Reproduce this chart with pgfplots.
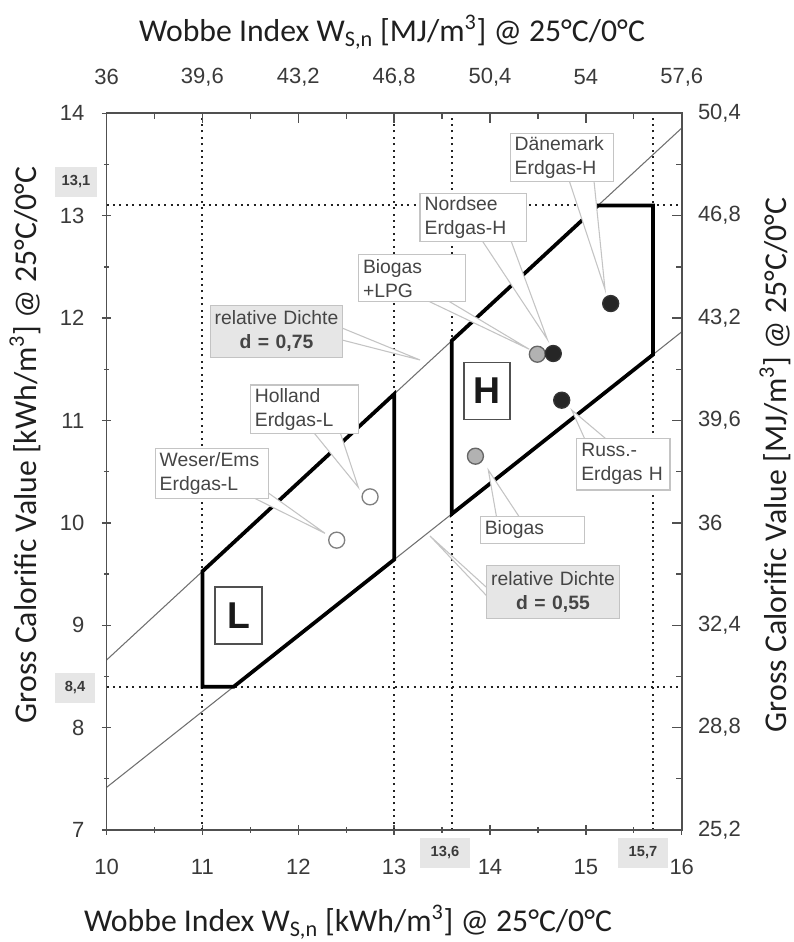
\documentclass[border=0pt]{standalone}
\usepackage{pgfplots}
\pgfplotsset{compat=1.18}
\usepackage{fontspec}
\setmainfont{Liberation Sans}
\newfontfamily\calfont{Carlito}
\definecolor{axc}{HTML}{505050}
\definecolor{tickc}{HTML}{3A3A3A}
\definecolor{anntext}{HTML}{454545}
\definecolor{boxc}{HTML}{C4C4C4}
\definecolor{greyfill}{HTML}{E6E6E6}
\definecolor{thinline}{HTML}{707070}
\definecolor{dotc}{HTML}{222222}
\newcommand{\tickfont}{\fontsize{16.5}{18}\selectfont}
\newcommand{\annfont}{\fontsize{14.5}{18}\selectfont}
\newcommand{\titlefont}{\calfont\fontsize{23.8}{26}\selectfont}
\newcommand{\callout}[3]{\fill[white] #1 -- #2 -- #3 -- cycle; \draw[boxc, line width=0.8pt] #1 -- #2 -- #3;}
\tikzset{cbox/.style={draw=boxc, fill=white, line width=0.8pt, font=\annfont, text=anntext, inner xsep=3.5pt, inner ysep=1pt, align=left},
 gbox/.style={draw=greyfill!85!black, fill=greyfill, line width=0.6pt, font=\annfont, text=anntext, inner sep=1pt, align=center},
 nbox/.style={fill=greyfill, font=\bfseries\fontsize{11}{12}\selectfont, text=tickc, inner sep=1pt}}
\begin{document}
\begin{tikzpicture}
\path[use as bounding box] (0,0) rectangle (594.75pt,706.5pt);
\pgfplotsset{base/.style={at={(79.9pt,84pt)}, anchor=south west, scale only axis,
  width=431.4pt, height=537.5pt, xmin=10, xmax=16, ymin=7, ymax=14,
  xtick={10,...,16}, ytick={7,...,14}, minor x tick num=1, minor y tick num=1,
  axis line style={axc, line width=1.3pt}, tick style={axc, line width=1pt},
  major tick length=7pt, minor tick length=4pt}}
\begin{axis}[base, xtick pos=left, ytick pos=left, tick align=center,
  xticklabels={10,11,12,13,14,15,16}, yticklabels={7,8,9,10,11,12,13,14},
  xticklabel style={font=\tickfont, text=tickc, anchor=center, inner sep=0pt, yshift=-24pt},
  yticklabel style={font=\tickfont, text=tickc, anchor=east, inner sep=0pt, xshift=-13pt}]
% dotted reference lines
\addplot[dotc, line width=1.5pt, dash pattern=on 1.5pt off 3.3pt] coordinates {(11,7) (11,14)};
\addplot[dotc, line width=1.5pt, dash pattern=on 1.5pt off 3.3pt] coordinates {(13,7) (13,14)};
\addplot[dotc, line width=1.5pt, dash pattern=on 1.5pt off 3.3pt] coordinates {(13.6,7) (13.6,14)};
\addplot[dotc, line width=1.5pt, dash pattern=on 1.5pt off 3.3pt] coordinates {(15.7,7) (15.7,14)};
\addplot[dotc, line width=1.5pt, dash pattern=on 1.5pt off 3.3pt] coordinates {(10,13.1) (16,13.1)};
\addplot[dotc, line width=1.5pt, dash pattern=on 1.5pt off 3.3pt] coordinates {(10,8.4) (16,8.4)};
% relative density lines
\addplot[thinline, line width=0.8pt] coordinates {(10,8.660) (16,13.856)};
\addplot[thinline, line width=0.8pt] coordinates {(10,7.416) (16,11.866)};
% L and H groups
\addplot[black, line width=2.8pt, line join=miter] coordinates {(11,8.4) (11,9.526) (13,11.258) (13,9.641) (11.327,8.4)} -- cycle;
\addplot[black, line width=2.8pt, line join=miter] coordinates {(13.6,10.086) (13.6,11.778) (15.127,13.1) (15.7,13.1) (15.7,11.643)} -- cycle;
% gases
\addplot[only marks, mark=*, mark size=6pt, mark options={fill=white, draw=gray, line width=1pt}] coordinates {(12.401,9.831) (12.749,10.254)};
\addplot[only marks, mark=*, mark size=6pt, mark options={fill=gray!60, draw=gray!80!black, line width=1pt}] coordinates {(13.848,10.651) (14.494,11.647)};
\addplot[only marks, mark=*, mark size=6pt, mark options={fill=black!85, draw=black!80, line width=1pt}] coordinates {(14.660,11.654) (14.748,11.198) (15.259,12.142)};
\end{axis}
\begin{axis}[base, xtick pos=right, ytick pos=right, tick align=inside,
  xticklabel pos=right, yticklabel pos=right,
  xticklabels={36,{39,6},{43,2},{46,8},{50,4},54,{57,6}},
  yticklabels={{25,2},{28,8},{32,4},36,{39,6},{43,2},{46,8},{50,4}},
  xticklabel style={font=\tickfont, text=tickc, anchor=center, inner sep=0pt, yshift=27pt},
  yticklabel style={font=\tickfont, text=tickc, anchor=west, inner sep=0pt, xshift=12pt}]
\end{axis}
\begin{scope}[x=0.75pt, y=-0.75pt, yshift=706.5pt]
% callout pointers
\callout{(569.3,181)}{(605,289.3)}{(594,181)}
\callout{(481.7,240)}{(547.3,339.3)}{(510.7,240)}
\callout{(426,300)}{(529.3,349.3)}{(446.7,300)}
\callout{(342,328)}{(420,360)}{(342,340)}
\callout{(313.3,432)}{(358.3,487.3)}{(340,432)}
\callout{(252,497)}{(325,533.3)}{(267,492)}
\callout{(585,439.5)}{(571.7,410)}{(606.7,439.5)}
\callout{(496.7,518)}{(488.3,470)}{(520,518)}
\callout{(487.5,588.3)}{(430,536)}{(487.5,596.7)}
% boxes
\node[cbox, text width=70.5pt, minimum height=36.3pt] at (561.7,157.5) {Dänemark\\Erdgas-H};
\node[cbox, text width=73pt, minimum height=36.3pt] at (473.3,217.5) {Nordsee\\Erdgas-H};
\node[cbox, text width=73pt, minimum height=35pt] at (411.7,278.3) {Biogas\\+LPG};
\node[gbox, text width=97pt, minimum height=39pt] at (276.5,331) {relative Dichte\\\textbf{d = 0,75}};
\node[cbox, text width=74pt, minimum height=36.3pt] at (304.2,409.2) {Holland\\Erdgas-L};
\node[cbox, text width=78pt, minimum height=37.5pt] at (211.7,473.3) {Weser/Ems\\Erdgas-L};
\node[cbox, text width=63pt, minimum height=38.75pt] at (623.3,464.2) {Russ.-\\Erdgas H};
\node[cbox, text width=71.5pt, minimum height=20pt] at (532.5,530) {Biogas};
\node[gbox, text width=98pt, minimum height=40pt] at (553,591.7) {relative Dichte\\\textbf{d = 0,55}};
\node[draw=axc, line width=1pt, fill=white, minimum width=34.5pt, minimum height=43pt, inner sep=0pt, font=\bfseries\fontsize{28}{28}\selectfont, text=black!90] at (487,391) {H};
\node[draw=axc, line width=1pt, fill=white, minimum width=35.25pt, minimum height=42.75pt, inner sep=0pt, font=\bfseries\fontsize{28}{28}\selectfont, text=black!90] at (238.5,615.5) {L};
% value boxes
\node[nbox, minimum width=31.5pt, minimum height=22pt] at (76,182) {13,1};
\node[nbox, minimum width=30pt, minimum height=22.5pt] at (75,688) {8,4};
\node[nbox, minimum width=37.5pt, minimum height=22.5pt] at (445,853) {13,6};
\node[nbox, minimum width=37.5pt, minimum height=22.5pt] at (643,853) {15,7};
% titles
\node[font=\titlefont, text=black!88, anchor=base] at (392,42) {Wobbe Index W\textsubscript{S,n} [MJ/m\textsuperscript{3}] @ 25°C/0°C};
\node[font=\titlefont, text=black!88, anchor=base] at (348,932) {Wobbe Index W\textsubscript{S,n} [kWh/m\textsuperscript{3}] @ 25°C/0°C};
\node[font=\titlefont, text=black!88, anchor=base, rotate=90] at (36,445) {Gross Calorific Value [kWh/m\textsuperscript{3}] @ 25°C/0°C};
\node[font=\titlefont, text=black!88, anchor=base, rotate=90] at (786,465) {Gross Calorific Value [MJ/m\textsuperscript{3}] @ 25°C/0°C};
\end{scope}
\end{tikzpicture}
\end{document}
